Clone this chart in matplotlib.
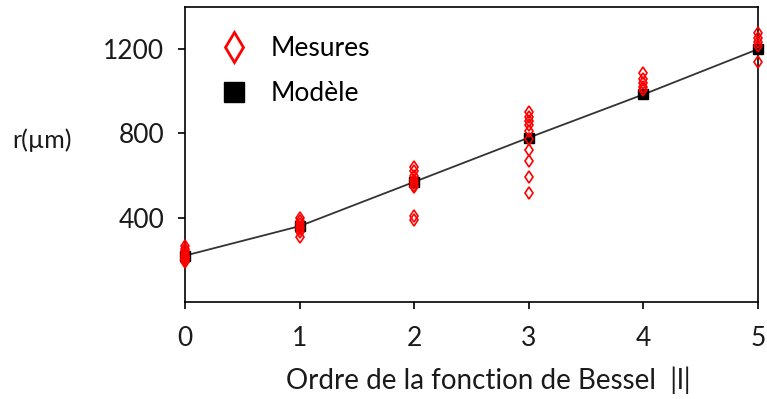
import matplotlib.pyplot as plt
import numpy as np

plt.rcParams['font.family'] = ['Lato', 'DejaVu Sans']

# Modelled radius for each Bessel order
orders = [0, 1, 2, 3, 4, 5]
model_r = [220, 360, 570, 780, 985, 1200]

# Measured radii (several per order)
meas_x = [0] * 10 + [1] * 7 + [2] * 9 + [3] * 10 + [4] * 5 + [5] * 5
meas_r = [190, 200, 205, 210, 215, 220, 230, 240, 250, 265,
          310, 330, 345, 355, 370, 385, 400,
          640, 620, 600, 580, 565, 550, 545, 410, 390,
          900, 880, 860, 840, 810, 775, 720, 670, 595, 515,
          1085, 1060, 1040, 1020, 1005,
          1275, 1255, 1235, 1215, 1140]

fig = plt.figure(figsize=(7.67, 3.99), dpi=100)
ax = fig.add_axes([0.2412, 0.2431, 0.9883 - 0.2412, 0.9825 - 0.2431])

ax.plot(orders, model_r, color='#333333', lw=1.3, zorder=1)
ax.plot(orders, model_r, 's', ms=6.5, color='black', label='Modèle',
        clip_on=False, zorder=2)
ax.plot(meas_x, meas_r, 'd', ms=6, mfc='none', mec='red', mew=1.2,
        label='Mesures', clip_on=False, zorder=3)

ax.set_xlim(0, 5)
ax.set_ylim(0, 1400)
ax.set_xticks(orders)
ax.set_yticks([400, 800, 1200])
ax.tick_params(direction='out', length=5, width=1.2, labelsize=19,
               labelcolor='#1a1a1a', top=False, right=False)
ax.tick_params(axis='x', pad=12)
ax.tick_params(axis='y', pad=10)
for s in ax.spines.values():
    s.set_linewidth(1.2)

ax.set_xlabel('Ordre de la fonction de Bessel  |l|', fontsize=20,
              color='#1a1a1a', va='center')
ax.xaxis.set_label_coords(0.529, -0.264)
fig.text(0.016, 0.648, 'r(µm)', fontsize=18, color='#1a1a1a', va='center')

# legend with bigger symbols than the data markers
h_mes = plt.Line2D([], [], ls='none', marker='d', ms=15, mfc='none',
                   mec='red', mew=2)
h_mod = plt.Line2D([], [], ls='none', marker='s', ms=14.5, color='black')
ax.legend([h_mes, h_mod], ['Mesures', 'Modèle'], loc='upper left',
          frameon=False, fontsize=19, handlelength=1.0, handletextpad=0.9,
          labelspacing=0.75, borderaxespad=0.2, bbox_to_anchor=(0.035, 0.955))

plt.savefig('out.png', dpi=100)
